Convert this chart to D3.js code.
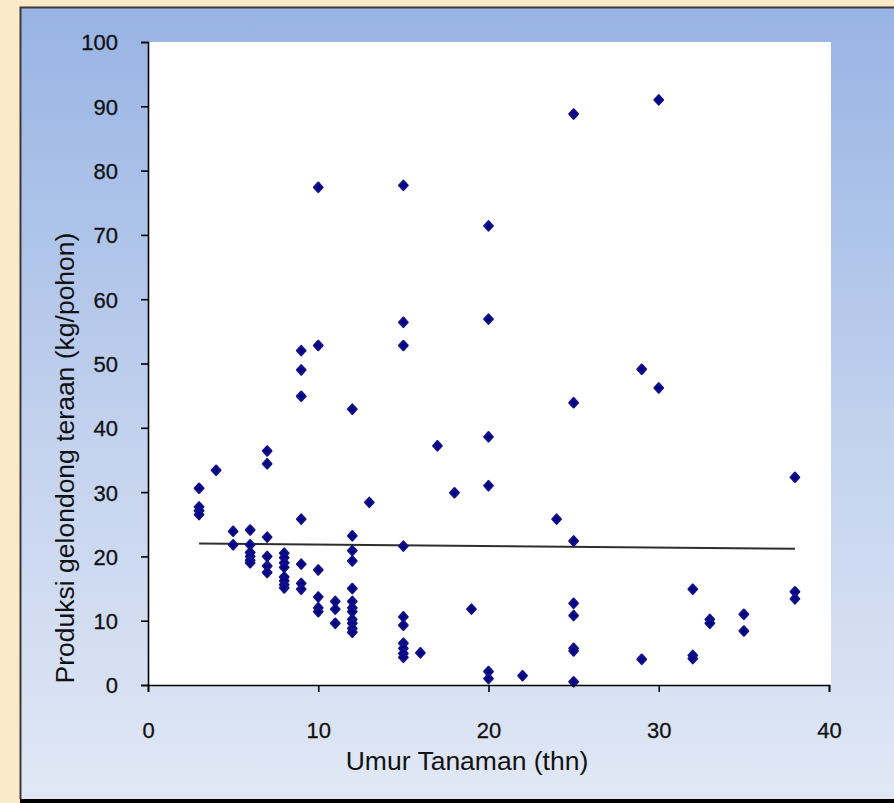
<!DOCTYPE html>
<html>
<head>
<meta charset="utf-8">
<script src="https://cdn.jsdelivr.net/npm/d3@7"></script>
<style>
  body { margin: 0; background: #fbe9c8; }
  text { font-family: "Liberation Sans", Arial, sans-serif; }
</style>
</head>
<body>
<div id="wrapper"></div>
<script>
// Data
const umur = [
  3, 3, 3, 3,
  4,
  5, 5,
  6, 6, 6, 6, 6, 6,
  7, 7, 7, 7, 7, 7,
  8, 8, 8, 8, 8, 8, 8, 8,
  9, 9, 9, 9, 9, 9, 9,
  10, 10, 10, 10, 10, 10,
  11, 11, 11,
  12, 12, 12, 12, 12, 12, 12, 12, 12, 12, 12, 12,
  13,
  15, 15, 15, 15, 15, 15, 15, 15, 15, 15,
  16, 17, 18, 19,
  20, 20, 20, 20, 20, 20,
  22, 24,
  25, 25, 25, 25, 25, 25, 25, 25,
  29, 29,
  30, 30,
  32, 32, 32,
  33, 33,
  35, 35,
  38, 38, 38
];
const produksi = [
  30.6, 27.7, 27.1, 26.5,
  33.4,
  23.9, 21.8,
  24.1, 21.8, 20.6, 20.0, 19.4, 19.0,
  36.4, 34.4, 23.0, 20.0, 18.5, 17.5,
  20.5, 19.8, 19.0, 18.3, 16.8, 16.2, 15.6, 15.1,
  52.0, 49.0, 44.9, 25.8, 18.8, 15.8, 14.9,
  77.4, 52.8, 17.9, 13.7, 12.0, 11.4,
  13.0, 11.8, 9.6,
  42.9, 23.2, 20.9, 19.3, 15.0, 13.0, 12.0, 11.4, 10.2, 9.6, 8.8, 8.2,
  28.4,
  77.7, 56.4, 52.8, 21.6, 10.6, 9.3, 6.5, 5.7, 4.9, 4.3,
  5.0, 37.2, 29.9, 11.8,
  71.4, 56.9, 38.6, 31.0, 2.1, 1.0,
  1.45, 25.8,
  88.8, 43.9, 22.4, 12.7, 10.8, 5.7, 5.3, 0.5,
  49.1, 4.0,
  91.0, 46.2,
  14.9, 4.6, 4.1,
  10.2, 9.6,
  11.0, 8.4,
  32.3, 14.5, 13.4
];
const trendX = [3, 38];
const trendY = [22.0, 21.2];
const xTicks = [0, 10, 20, 30, 40];
const yTicks = [0, 10, 20, 30, 40, 50, 60, 70, 80, 90, 100];

const dataset = umur.map((u, i) => ({ x: u, y: produksi[i] }));
const xAccessor = (d) => d.x;
const yAccessor = (d) => d.y;

// Dimensions
const dimensions = {
  width: 894,
  height: 803,
  margin: { top: 42, left: 148, right: 65, bottom: 118 },
};
dimensions.boundedWidth = 829 - dimensions.margin.left;
dimensions.boundedHeight = 685 - dimensions.margin.top;

// Canvas
const wrapper = d3
  .select("#wrapper")
  .append("svg")
  .attr("width", dimensions.width)
  .attr("height", dimensions.height);

const defs = wrapper.append("defs");
const grad = defs
  .append("linearGradient")
  .attr("id", "panelGrad")
  .attr("x1", 0).attr("y1", 0)
  .attr("x2", 0).attr("y2", 1);
grad.append("stop").attr("offset", "0%").attr("stop-color", "#98b4e4");
grad.append("stop").attr("offset", "55%").attr("stop-color", "#c3d2ee");
grad.append("stop").attr("offset", "100%").attr("stop-color", "#e1e8f5");

// outer beige and panel
wrapper.append("rect")
  .attr("width", dimensions.width).attr("height", dimensions.height)
  .attr("fill", "#fbe9c8");
wrapper.append("rect")
  .attr("x", 20).attr("y", 7)
  .attr("width", 874).attr("height", 792)
  .attr("fill", "url(#panelGrad)");
wrapper.append("path")
  .attr("d", "M20.5,799 L20.5,7.5 L894,7.5")
  .attr("fill", "none")
  .attr("stroke", "#3a3a3a")
  .attr("stroke-width", 2);
wrapper.append("rect")
  .attr("x", 20).attr("y", 799)
  .attr("width", 874).attr("height", 4)
  .attr("fill", "#000");

const bounds = wrapper
  .append("g")
  .attr("transform", `translate(${dimensions.margin.left}, ${dimensions.margin.top})`);

// Scales
const xScale = d3.scaleLinear().domain([0, 40]).range([0, dimensions.boundedWidth]);
const yScale = d3.scaleLinear().domain([0, 100]).range([dimensions.boundedHeight, 0]);

// plot area
bounds.append("rect")
  .attr("x", 0).attr("y", 0)
  .attr("width", dimensions.boundedWidth + 2)
  .attr("height", dimensions.boundedHeight)
  .attr("fill", "#fff");

// trend line
const line = d3.line().x((d) => xScale(d[0])).y((d) => yScale(d[1]));
bounds.append("path")
  .datum(trendX.map((x, i) => [x, trendY[i]]))
  .attr("d", line)
  .attr("fill", "none")
  .attr("stroke", "#2e2e2e")
  .attr("stroke-width", 2);

// diamond markers
const diamond = {
  draw(context, size) {
    const w = 4.4, h = 4.8;
    context.moveTo(0, -h);
    context.lineTo(w, 0);
    context.lineTo(0, h);
    context.lineTo(-w, 0);
    context.closePath();
  },
};
bounds.append("g")
  .selectAll(".dot")
  .data(dataset)
  .join("path")
  .attr("class", "dot")
  .attr("transform", (d) => `translate(${xScale(xAccessor(d))}, ${yScale(yAccessor(d))})`)
  .attr("d", d3.symbol().type(diamond).size(64))
  .attr("fill", "#000080")
  .attr("stroke", "#10108a")
  .attr("stroke-width", 2)
  .attr("stroke-linejoin", "round");

// Axes
const xAxisGenerator = d3.axisBottom(xScale).tickValues(xTicks).tickSize(7).tickPadding(30);
const xAxis = bounds.append("g")
  .attr("transform", `translate(0, ${dimensions.boundedHeight})`)
  .call(xAxisGenerator);

const yAxisGenerator = d3.axisLeft(yScale).tickValues(yTicks).tickSize(7).tickPadding(23);
const yAxis = bounds.append("g").call(yAxisGenerator);

[xAxis, yAxis].forEach((ax) => {
  ax.select(".domain").attr("stroke", "#000").attr("stroke-width", 1.6);
  ax.selectAll(".tick line").attr("stroke", "#000").attr("stroke-width", 1.6);
  ax.selectAll(".tick text")
    .attr("fill", "#111")
    .attr("stroke", "#111")
    .attr("stroke-width", 0.3)
    .style("font-size", "22px")
    .style("font-family", "'Liberation Sans', Arial, sans-serif");
});
yAxis.selectAll(".tick text").attr("dy", "0.36em");

// axis titles
wrapper.append("text")
  .attr("x", 467)
  .attr("y", 770)
  .attr("text-anchor", "middle")
  .attr("fill", "#111")
  .style("font-size", "26.5px")
  .text("Umur Tanaman (thn)");

wrapper.append("text")
  .attr("transform", "translate(74, 458) rotate(-90)")
  .attr("text-anchor", "middle")
  .attr("fill", "#111")
  .style("font-size", "26.5px")
  .text("Produksi gelondong teraan (kg/pohon)");
</script>
</body>
</html>
